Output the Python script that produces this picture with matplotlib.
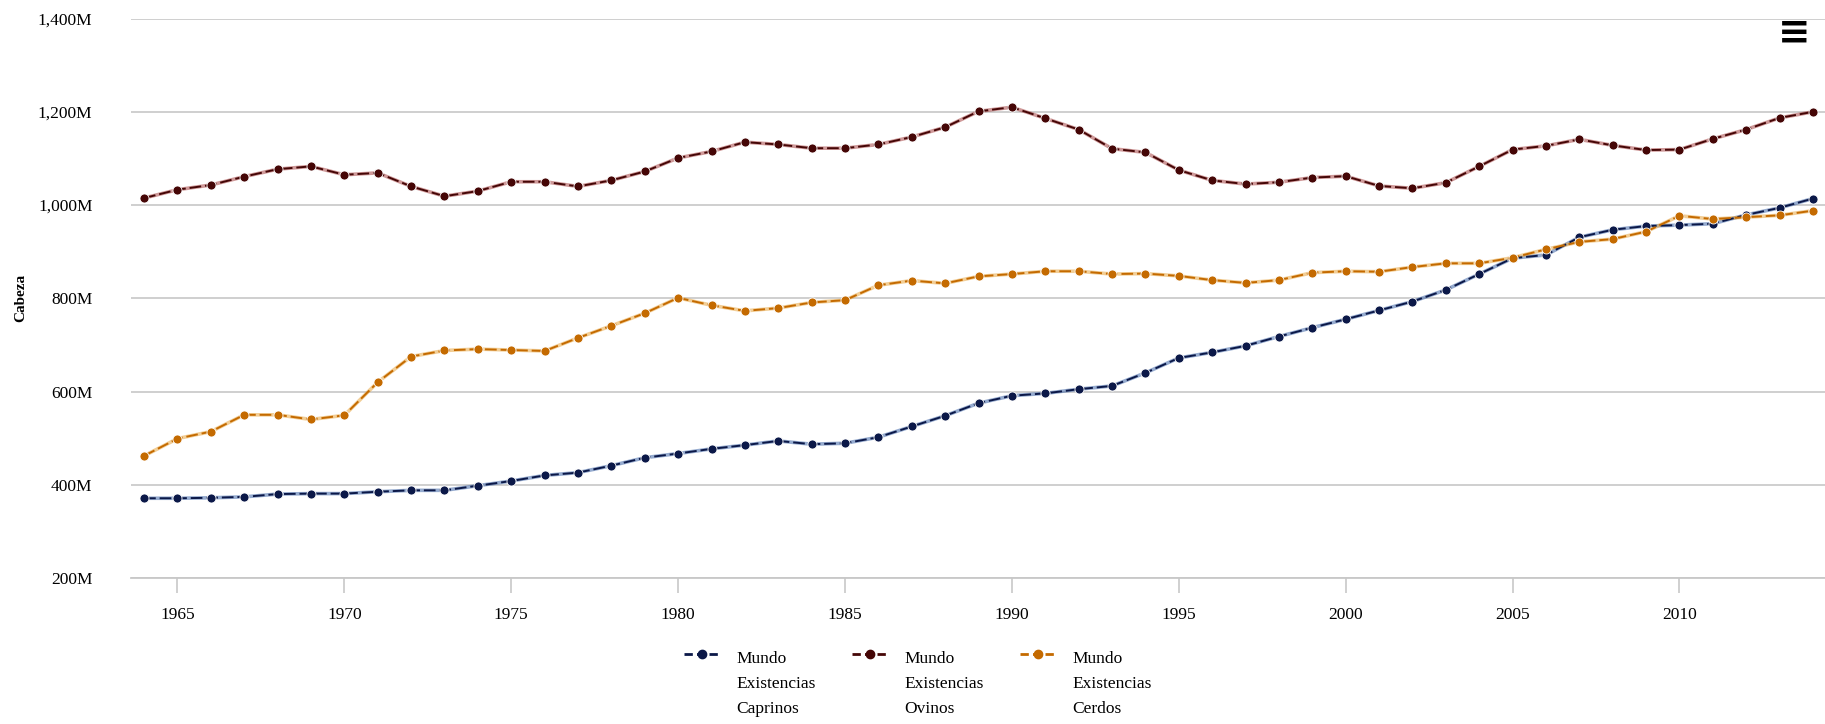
import numpy as np
import matplotlib
matplotlib.use("Agg")
import matplotlib.pyplot as plt
from matplotlib.lines import Line2D
from matplotlib.legend_handler import HandlerLine2D

years = list(range(1964, 2015))

# Mundo - existencias (millones de cabezas)
caprinos = [371, 371, 372, 374, 380, 381, 381, 385, 388, 388,
            398, 408, 420, 426, 441, 458, 467, 477, 485, 494,
            487, 489, 502, 525, 548, 575, 591, 596, 605, 612,
            640, 672, 684, 698, 718, 737, 755, 774, 793, 818,
            852, 886, 893, 931, 947, 955, 957, 960, 979, 994, 1014]
ovinos = [1015, 1033, 1043, 1061, 1077, 1083, 1065, 1069, 1040, 1019,
          1030, 1050, 1050, 1040, 1053, 1072, 1101, 1115, 1135, 1130,
          1122, 1122, 1130, 1146, 1167, 1201, 1210, 1186, 1162, 1121,
          1113, 1075, 1053, 1045, 1049, 1059, 1062, 1041, 1036, 1048,
          1083, 1119, 1127, 1141, 1128, 1118, 1119, 1142, 1162, 1187, 1200]
cerdos = [462, 499, 514, 550, 550, 540, 549, 620, 675, 688,
          691, 689, 687, 715, 741, 768, 801, 785, 773, 779,
          791, 796, 828, 838, 832, 847, 852, 858, 858, 852,
          853, 848, 839, 833, 839, 855, 858, 857, 867, 875,
          875, 887, 905, 921, 927, 943, 977, 970, 974, 978, 988]

labels = ["Mundo\nExistencias\nCaprinos", "Mundo\nExistencias\nOvinos",
          "Mundo\nExistencias\nCerdos"]
yticks = [200, 400, 600, 800, 1000, 1200, 1400]
xticks = [1965, 1970, 1975, 1980, 1985, 1990, 1995, 2000, 2005, 2010]

# (light line, dark dash / marker)
colors = [("#3f66a8", "#0b1848"), ("#a84545", "#450606"), ("#e8a640", "#c46a00")]

LEG_FS = 12.5
LEG_LS = 1.75


class TopHandler(HandlerLine2D):
    # put the legend symbol next to the first line of a multi-line label
    def create_artists(self, legend, orig_handle, xdescent, ydescent,
                       width, height, fontsize, trans):
        arts = super().create_artists(legend, orig_handle, xdescent, ydescent,
                                      width, height, fontsize, trans)
        for a in arts:
            a.set_ydata(np.asarray(a.get_ydata()) + LEG_LS * fontsize * 0.98)
        return arts


plt.rcParams['font.family'] = ['Liberation Serif', 'DejaVu Serif']

fig = plt.figure(figsize=(18.25, 7.24), dpi=100)
ax = fig.add_axes([0.072, 0.2017, 0.928, 0.7726])

handles = []
for vals, (light, dark), lab in zip([caprinos, ovinos, cerdos], colors, labels):
    ax.plot(years, vals, color=light, lw=2.6, alpha=0.55, zorder=3)
    ax.plot(years, vals, color=dark, lw=1.4, ls=(0, (6, 2)), zorder=4,
            marker='o', markersize=6.5, markerfacecolor=dark,
            markeredgecolor='white', markeredgewidth=0.6)
    handles.append(Line2D([], [], color=dark, lw=2, ls=(0, (3, 1.5)),
                          marker='o', markersize=6, markerfacecolor=dark,
                          markeredgecolor=dark))

ax.set_xlim(1963.62, 2014.36)
ax.set_ylim(200, 1400)
ax.set_yticks(yticks)
ax.set_yticklabels(["{:,}M".format(v) for v in yticks], fontsize=12.5)
ax.set_xticks(xticks)
ax.set_xticklabels([str(x) for x in xticks], fontsize=12.5)
ax.grid(axis='y', color='#cccccc', lw=1.3)
ax.set_axisbelow(True)
for s in ['top', 'right', 'left']:
    ax.spines[s].set_visible(False)
ax.spines['bottom'].set_color('#c8c8c8')
ax.spines['bottom'].set_linewidth(1.3)
ax.tick_params(axis='y', length=0, pad=28)
ax.tick_params(axis='x', length=11, color='#c8c8c8', width=1.2, pad=10)

fig.text(21 / 1825, 0.588, "Cabeza", fontsize=11, fontweight='bold',
         rotation=90, ha='center', va='center')

leg = fig.legend(handles, labels, loc='upper center', bbox_to_anchor=(0.503, 0.11),
                 ncol=3, frameon=False, fontsize=LEG_FS, handlelength=2.0,
                 columnspacing=2.1, handletextpad=1.0, borderaxespad=0,
                 handler_map={Line2D: TopHandler()})
for t in leg.get_texts():
    t.set_linespacing(LEG_LS)

fig.text(0.992, 0.955, "≡", fontsize=28, fontweight='bold', ha='right', va='center',
         family='DejaVu Sans')

fig.savefig("out.png", dpi=100)
